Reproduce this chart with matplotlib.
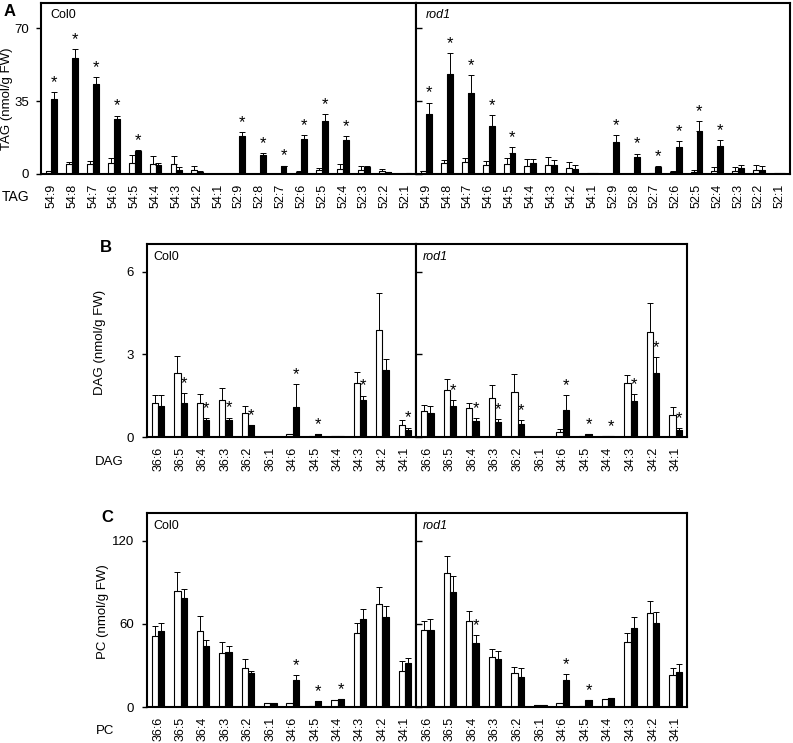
import matplotlib
matplotlib.use('Agg')
import matplotlib.pyplot as plt
import numpy as np

plt.rcParams['font.family'] = ['Liberation Sans', 'DejaVu Sans']

# ---------------- data ----------------
tag_labels = ['54:9', '54:8', '54:7', '54:6', '54:5', '54:4', '54:3', '54:2', '54:1',
              '52:9', '52:8', '52:7', '52:6', '52:5', '52:4', '52:3', '52:2', '52:1']
pl_labels = ['36:6', '36:5', '36:4', '36:3', '36:2', '36:1',
             '34:6', '34:5', '34:4', '34:3', '34:2', '34:1']

# TAG, Col0
tag_col0_w = [1.3, 4.8, 4.9, 5.2, 5.2, 4.6, 4.6, 2.1, 0.2, 0.0, 0.0, 0.0, 1.0, 1.7, 2.5, 2.1, 1.3, 0.1]
tag_col0_w_err = [0.3, 1.0, 1.4, 2.4, 3.9, 3.8, 4.0, 1.9, 0.0, 0.0, 0.0, 0.0, 0.2, 1.3, 2.1, 1.9, 1.1, 0.0]
tag_col0_b = [35.8, 55.7, 43.1, 26.4, 11.0, 4.3, 1.9, 1.0, 0.2, 18.1, 9.1, 3.7, 16.7, 25.5, 16.1, 3.2, 0.8, 0.3]
tag_col0_b_err = [3.5, 4.3, 3.2, 1.6, 0.5, 1.1, 1.3, 0.2, 0.0, 2.0, 1.0, 0.3, 2.0, 3.2, 1.9, 0.5, 0.2, 0.0]
tag_col0_star = [1, 1, 1, 1, 1, 0, 0, 0, 0, 1, 1, 1, 1, 1, 1, 0, 0, 0]
# TAG, rod1
tag_rod1_w = [1.3, 5.2, 5.7, 4.1, 4.8, 3.8, 4.3, 2.9, 0.3, 0.0, 0.0, 0.3, 1.0, 1.1, 1.6, 1.6, 2.1, 0.3]
tag_rod1_w_err = [0.3, 1.4, 1.8, 1.9, 2.9, 3.3, 4.0, 2.7, 0.0, 0.0, 0.0, 0.0, 0.2, 1.0, 1.9, 1.7, 2.0, 0.0]
tag_rod1_b = [28.6, 48.0, 38.7, 23.2, 10.3, 5.1, 4.1, 2.2, 0.3, 15.3, 8.1, 3.5, 12.9, 20.7, 13.4, 2.9, 1.9, 0.5]
tag_rod1_b_err = [5.6, 9.9, 8.7, 4.9, 2.7, 2.2, 2.7, 2.3, 0.0, 3.3, 1.7, 0.3, 2.7, 4.8, 3.0, 1.3, 2.1, 0.0]
tag_rod1_star = [1, 1, 1, 1, 1, 0, 0, 0, 0, 1, 1, 1, 1, 1, 1, 0, 0, 0]

# DAG, Col0
dag_col0_w = [1.22, 2.32, 1.23, 1.33, 0.87, 0.0, 0.10, 0.02, 0.04, 1.95, 3.89, 0.45]
dag_col0_w_err = [0.30, 0.62, 0.34, 0.43, 0.25, 0.0, 0.0, 0.0, 0.0, 0.41, 1.35, 0.17]
dag_col0_b = [1.12, 1.24, 0.60, 0.62, 0.42, 0.0, 1.07, 0.10, 0.04, 1.35, 2.43, 0.27]
dag_col0_b_err = [0.40, 0.34, 0.08, 0.08, 0.02, 0.0, 0.86, 0.01, 0.0, 0.15, 0.41, 0.07]
dag_col0_star = [0, 1, 1, 1, 1, 0, 1, 1, 0, 1, 0, 1]
# DAG, rod1
dag_rod1_w = [0.93, 1.70, 1.05, 1.40, 1.65, 0.0, 0.18, 0.02, 0.04, 1.97, 3.82, 0.81]
dag_rod1_w_err = [0.24, 0.40, 0.19, 0.48, 0.62, 0.0, 0.11, 0.0, 0.0, 0.29, 1.04, 0.28]
dag_rod1_b = [0.87, 1.11, 0.58, 0.53, 0.48, 0.0, 0.97, 0.10, 0.03, 1.32, 2.33, 0.25]
dag_rod1_b_err = [0.24, 0.24, 0.11, 0.11, 0.12, 0.0, 0.56, 0.01, 0.0, 0.25, 0.58, 0.07]
dag_rod1_star = [0, 1, 1, 1, 1, 0, 1, 1, 1, 1, 1, 1]

# PC, Col0
pc_col0_w = [51.0, 83.6, 55.1, 38.9, 27.8, 2.7, 2.7, 0.5, 4.8, 53.6, 74.6, 26.3]
pc_col0_w_err = [7.2, 13.5, 10.6, 7.7, 6.5, 0.0, 0.0, 0.0, 0.0, 6.8, 12.3, 7.2]
pc_col0_b = [54.6, 78.3, 44.2, 39.6, 24.6, 2.7, 19.6, 4.1, 5.6, 63.3, 65.2, 31.4]
pc_col0_b_err = [5.8, 6.8, 4.1, 4.1, 1.7, 0.0, 3.6, 0.3, 0.3, 7.2, 7.5, 3.9]
pc_col0_star = [0, 0, 0, 0, 0, 0, 1, 1, 1, 0, 0, 0]
# PC, rod1
pc_rod1_w = [55.6, 96.4, 62.1, 36.0, 24.2, 1.5, 2.9, 1.0, 5.6, 47.1, 67.6, 22.9]
pc_rod1_w_err = [6.8, 12.3, 7.2, 5.6, 4.8, 0.0, 0.0, 0.0, 0.3, 6.5, 8.9, 5.3]
pc_rod1_b = [55.3, 82.9, 45.9, 34.8, 21.7, 1.5, 19.8, 4.8, 6.3, 57.2, 60.4, 25.4]
pc_rod1_b_err = [8.2, 11.8, 6.0, 5.8, 6.5, 0.0, 4.1, 0.3, 0.3, 8.0, 8.5, 5.3]
pc_rod1_star = [0, 0, 1, 0, 0, 0, 1, 1, 0, 0, 0, 0]

# ---------------- figure ----------------
W, H = 793, 743
fig = plt.figure(figsize=(W / 100, H / 100), dpi=100)


def px_axes(l, t, r, b):
    return fig.add_axes([l / W, 1 - b / H, (r - l) / W, (b - t) / H])


BW = 0.28


def draw(ax, labels, w, we, b, be, stars, ylim, yticks, first, name, italic, ypad=6):
    x = np.arange(len(labels))
    ax.bar(x - BW / 2, w, BW, color='white', edgecolor='black', linewidth=0.8, zorder=2)
    ax.bar(x + BW / 2, b, BW, color='black', edgecolor='black', linewidth=0.8, zorder=2)
    ax.errorbar(x - BW / 2, w, yerr=[np.zeros(len(w)), we], fmt='none',
                ecolor='black', elinewidth=0.7, capsize=2, capthick=0.7, zorder=3)
    ax.errorbar(x + BW / 2, b, yerr=[np.zeros(len(b)), be], fmt='none',
                ecolor='black', elinewidth=0.7, capsize=2, capthick=0.7, zorder=3)
    for xi, bi, ei, s in zip(x, b, be, stars):
        if s:
            ax.annotate('*', (xi + BW / 2, bi + ei), xytext=(0, 1.5),
                        textcoords='offset points', ha='center', va='bottom',
                        fontsize=12)
    ax.set_xlim(-0.5, len(labels) - 0.5)
    ax.set_ylim(*ylim)
    ax.set_yticks(yticks)
    ax.set_xticks(x)
    ax.set_xticklabels(labels, rotation=90, fontsize=9)
    ax.tick_params(axis='x', length=0, pad=7)
    if first:
        ax.tick_params(axis='y', direction='out', length=3.5, width=1, labelsize=9.5, pad=ypad)
    else:
        ax.tick_params(axis='y', direction='in', length=4, width=1, labelleft=False)
    for sp in ax.spines.values():
        sp.set_linewidth(1.5)
    ax.text(0.025, 0.965, name, transform=ax.transAxes, ha='left', va='top',
            fontsize=9, style='italic' if italic else 'normal')


# Panel A
axA1 = px_axes(41, 3, 416, 174)
axA2 = px_axes(416, 3, 790, 174)
draw(axA1, tag_labels, tag_col0_w, tag_col0_w_err, tag_col0_b, tag_col0_b_err,
     tag_col0_star, (0, 82), [0, 35, 70], True, 'Col0', False, ypad=5)
draw(axA2, tag_labels, tag_rod1_w, tag_rod1_w_err, tag_rod1_b, tag_rod1_b_err,
     tag_rod1_star, (0, 82), [0, 35, 70], False, 'rod1', True)

# Panel B
axB1 = px_axes(147, 244, 416, 437)
axB2 = px_axes(416, 244, 687, 437)
draw(axB1, pl_labels, dag_col0_w, dag_col0_w_err, dag_col0_b, dag_col0_b_err,
     dag_col0_star, (0, 7), [0, 3, 6], True, 'Col0', False)
draw(axB2, pl_labels, dag_rod1_w, dag_rod1_w_err, dag_rod1_b, dag_rod1_b_err,
     dag_rod1_star, (0, 7), [0, 3, 6], False, 'rod1', True)

# Panel C
axC1 = px_axes(147, 513, 416, 707)
axC2 = px_axes(416, 513, 687, 707)
draw(axC1, pl_labels, pc_col0_w, pc_col0_w_err, pc_col0_b, pc_col0_b_err,
     pc_col0_star, (0, 140), [0, 60, 120], True, 'Col0', False)
draw(axC2, pl_labels, pc_rod1_w, pc_rod1_w_err, pc_rod1_b, pc_rod1_b_err,
     pc_rod1_star, (0, 140), [0, 60, 120], False, 'rod1', True)


def ftext(xp, yp, s, **kw):
    fig.text(xp / W, 1 - yp / H, s, **kw)


# y-axis labels
ftext(7, 99, 'TAG (nmol/g FW)', rotation=90, ha='center', va='center', fontsize=9.5)
ftext(100, 342, 'DAG (nmol/g FW)', rotation=90, ha='center', va='center', fontsize=9.5)
ftext(103, 612, 'PC (nmol/g FW)', rotation=90, ha='center', va='center', fontsize=9.5)

# row labels
ftext(2, 197, 'TAG', ha='left', va='center', fontsize=10)
ftext(95, 462, 'DAG', ha='left', va='center', fontsize=9.5)
ftext(96, 731, 'PC', ha='left', va='center', fontsize=9.5)

# panel letters
ftext(4, 12, 'A', ha='left', va='center', fontsize=12, fontweight='bold')
ftext(100, 247, 'B', ha='left', va='center', fontsize=12, fontweight='bold')
ftext(101, 517, 'C', ha='left', va='center', fontsize=12, fontweight='bold')

fig.savefig('out.png', dpi=100)
